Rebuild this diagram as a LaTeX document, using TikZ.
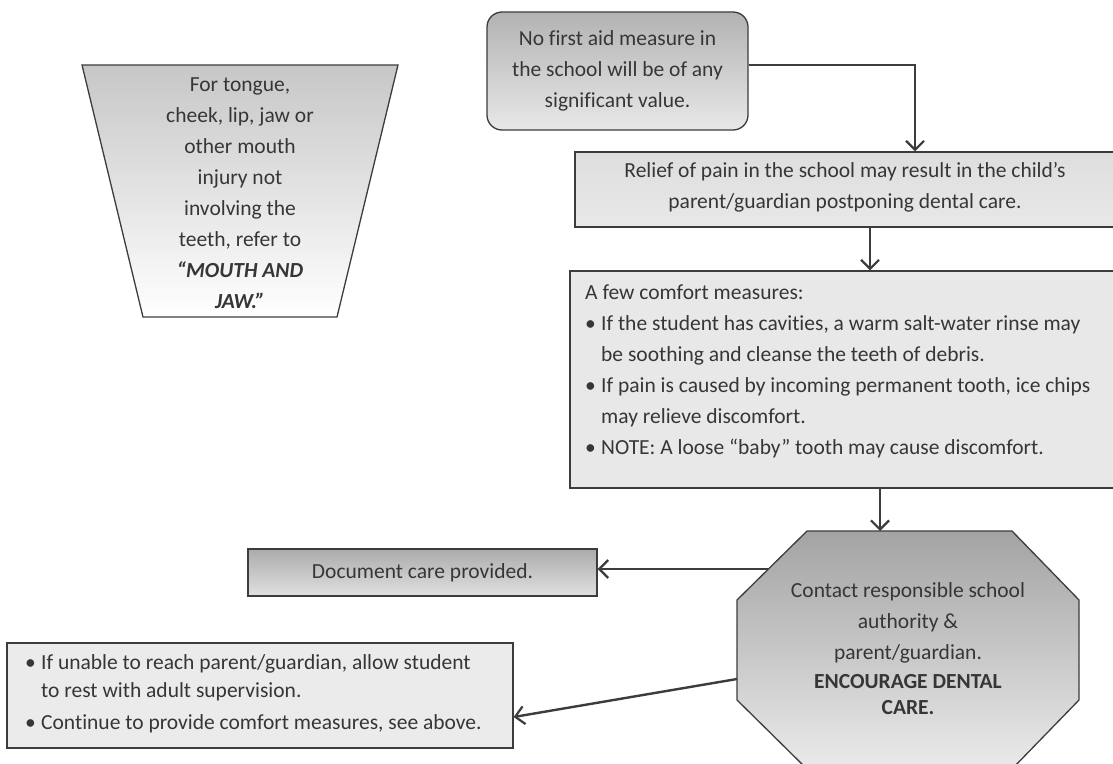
\documentclass[tikz,border=0pt]{standalone}
\usepackage{fontspec}
\setmainfont{Carlito}[Ligatures=NoCommon]
\usetikzlibrary{arrows.meta}
\definecolor{ln}{HTML}{3C3C3C}
\definecolor{tx}{HTML}{363636}
\newcommand\bul{\makebox[16pt][l]{\textbullet}}
\newcommand\ind{\hspace*{16pt}}
\begin{document}
\begin{tikzpicture}[x=1pt,y=-1pt,
  box/.style={draw=ln, line width=1.3pt, inner sep=0pt},
  txt/.style={text=tx, font=\fontsize{21.5}{31}\selectfont, inner sep=0pt, align=center},
  ltxt/.style={text=tx, font=\fontsize{21.5}{31}\selectfont, inner sep=0pt, align=left, anchor=west},
  arr/.style={draw=ln, line width=2pt, -{Straight Barb[length=9pt,width=18pt,line width=2.2pt]}}]
\useasboundingbox (0,0) rectangle (1113,763);
\fill[white] (0,0) rectangle (1113,763);
\clip (0,0) rectangle (1113,763);

% trapezoid
\draw[box, top color=black!22, bottom color=white] (82,65) -- (398,65) -- (337,317) -- (143,317) -- cycle;
\node[txt] (trap) at (240,193.5) {For tongue,\\cheek, lip, jaw or\\other mouth\\injury not\\involving the\\teeth, refer to\\\textbf{\textit{“MOUTH AND}}\\\textbf{\textit{JAW.”}}};

% rounded box
\node[box, rounded corners=15pt, minimum width=261pt, minimum height=118pt, top color=black!30, bottom color=black!9] (nofirst) at (617.5,71) {};
\node[txt] (nofirstt) at (nofirst.center) {No first aid measure in\\the school will be of any\\significant value.};

% relief box
\node[box, minimum width=541pt, minimum height=75pt, top color=black!13, bottom color=black!9] (relief) at (845.5,189.5) {};
\node[txt] (relieft) at (845,187) {Relief of pain in the school may result in the child’s\\parent/guardian postponing dental care.};

% comfort box
\node[box, minimum width=546pt, minimum height=217pt, fill=black!9] (comfort) at (843,379.5) {};
\node[ltxt] (comfortt) at (585,371) {A few comfort measures:\\
\bul If the student has cavities, a warm salt-water rinse may\\
\ind be soothing and cleanse the teeth of debris.\\
\bul If pain is caused by incoming permanent tooth, ice chips\\
\ind may relieve discomfort.\\
\bul NOTE: A loose “baby” tooth may cause discomfort.};

% octagon
\draw[box, top color=black!36, bottom color=black!8] (807,531) -- (1012,531) -- (1079,600) -- (1079,700) -- (1012,769) -- (807,769) -- (737,700) -- (737,600) -- cycle;
\coordinate (octtop) at (880,531);
\coordinate (octdoc) at (768,569);
\coordinate (octrest) at (737,679);
\node[txt] (octt) at (908,649) {Contact responsible school\\authority \&\\parent/guardian.\\[-2pt]\textbf{ENCOURAGE DENTAL}\\[-5pt]\textbf{CARE.}};

% document box
\node[box, minimum width=349pt, minimum height=47pt, top color=black!33, bottom color=black!12] (doc) at (422.5,572.5) {};
\node[txt] (doct) at (doc.center) {Document care provided.};

% rest box
\node[box, minimum width=506pt, minimum height=105pt, fill=black!8] (rest) at (260,695.5) {};
\node[ltxt, font=\fontsize{21.5}{28}\selectfont] (restt) at (25,694) {\bul If unable to reach parent/guardian, allow student\\
\ind to rest with adult supervision.\\[4pt]
\bul Continue to provide comfort measures, see above.};

% connectors
\draw[arr] ([yshift=6pt]nofirst.east) -| ([xshift=69.5pt]relief.north);
\draw[arr] ([xshift=24.5pt]relief.south) coordinate (r1) -- (r1 |- comfort.north);
\draw[arr] (comfort.south -| octtop) -- (octtop);
\draw[arr, line width=2.6pt] (octdoc) -- (octdoc -| doc.east);
\draw[arr, line width=2.4pt] (octrest) -- ([yshift=-21.5pt]rest.east);
\end{tikzpicture}
\end{document}
